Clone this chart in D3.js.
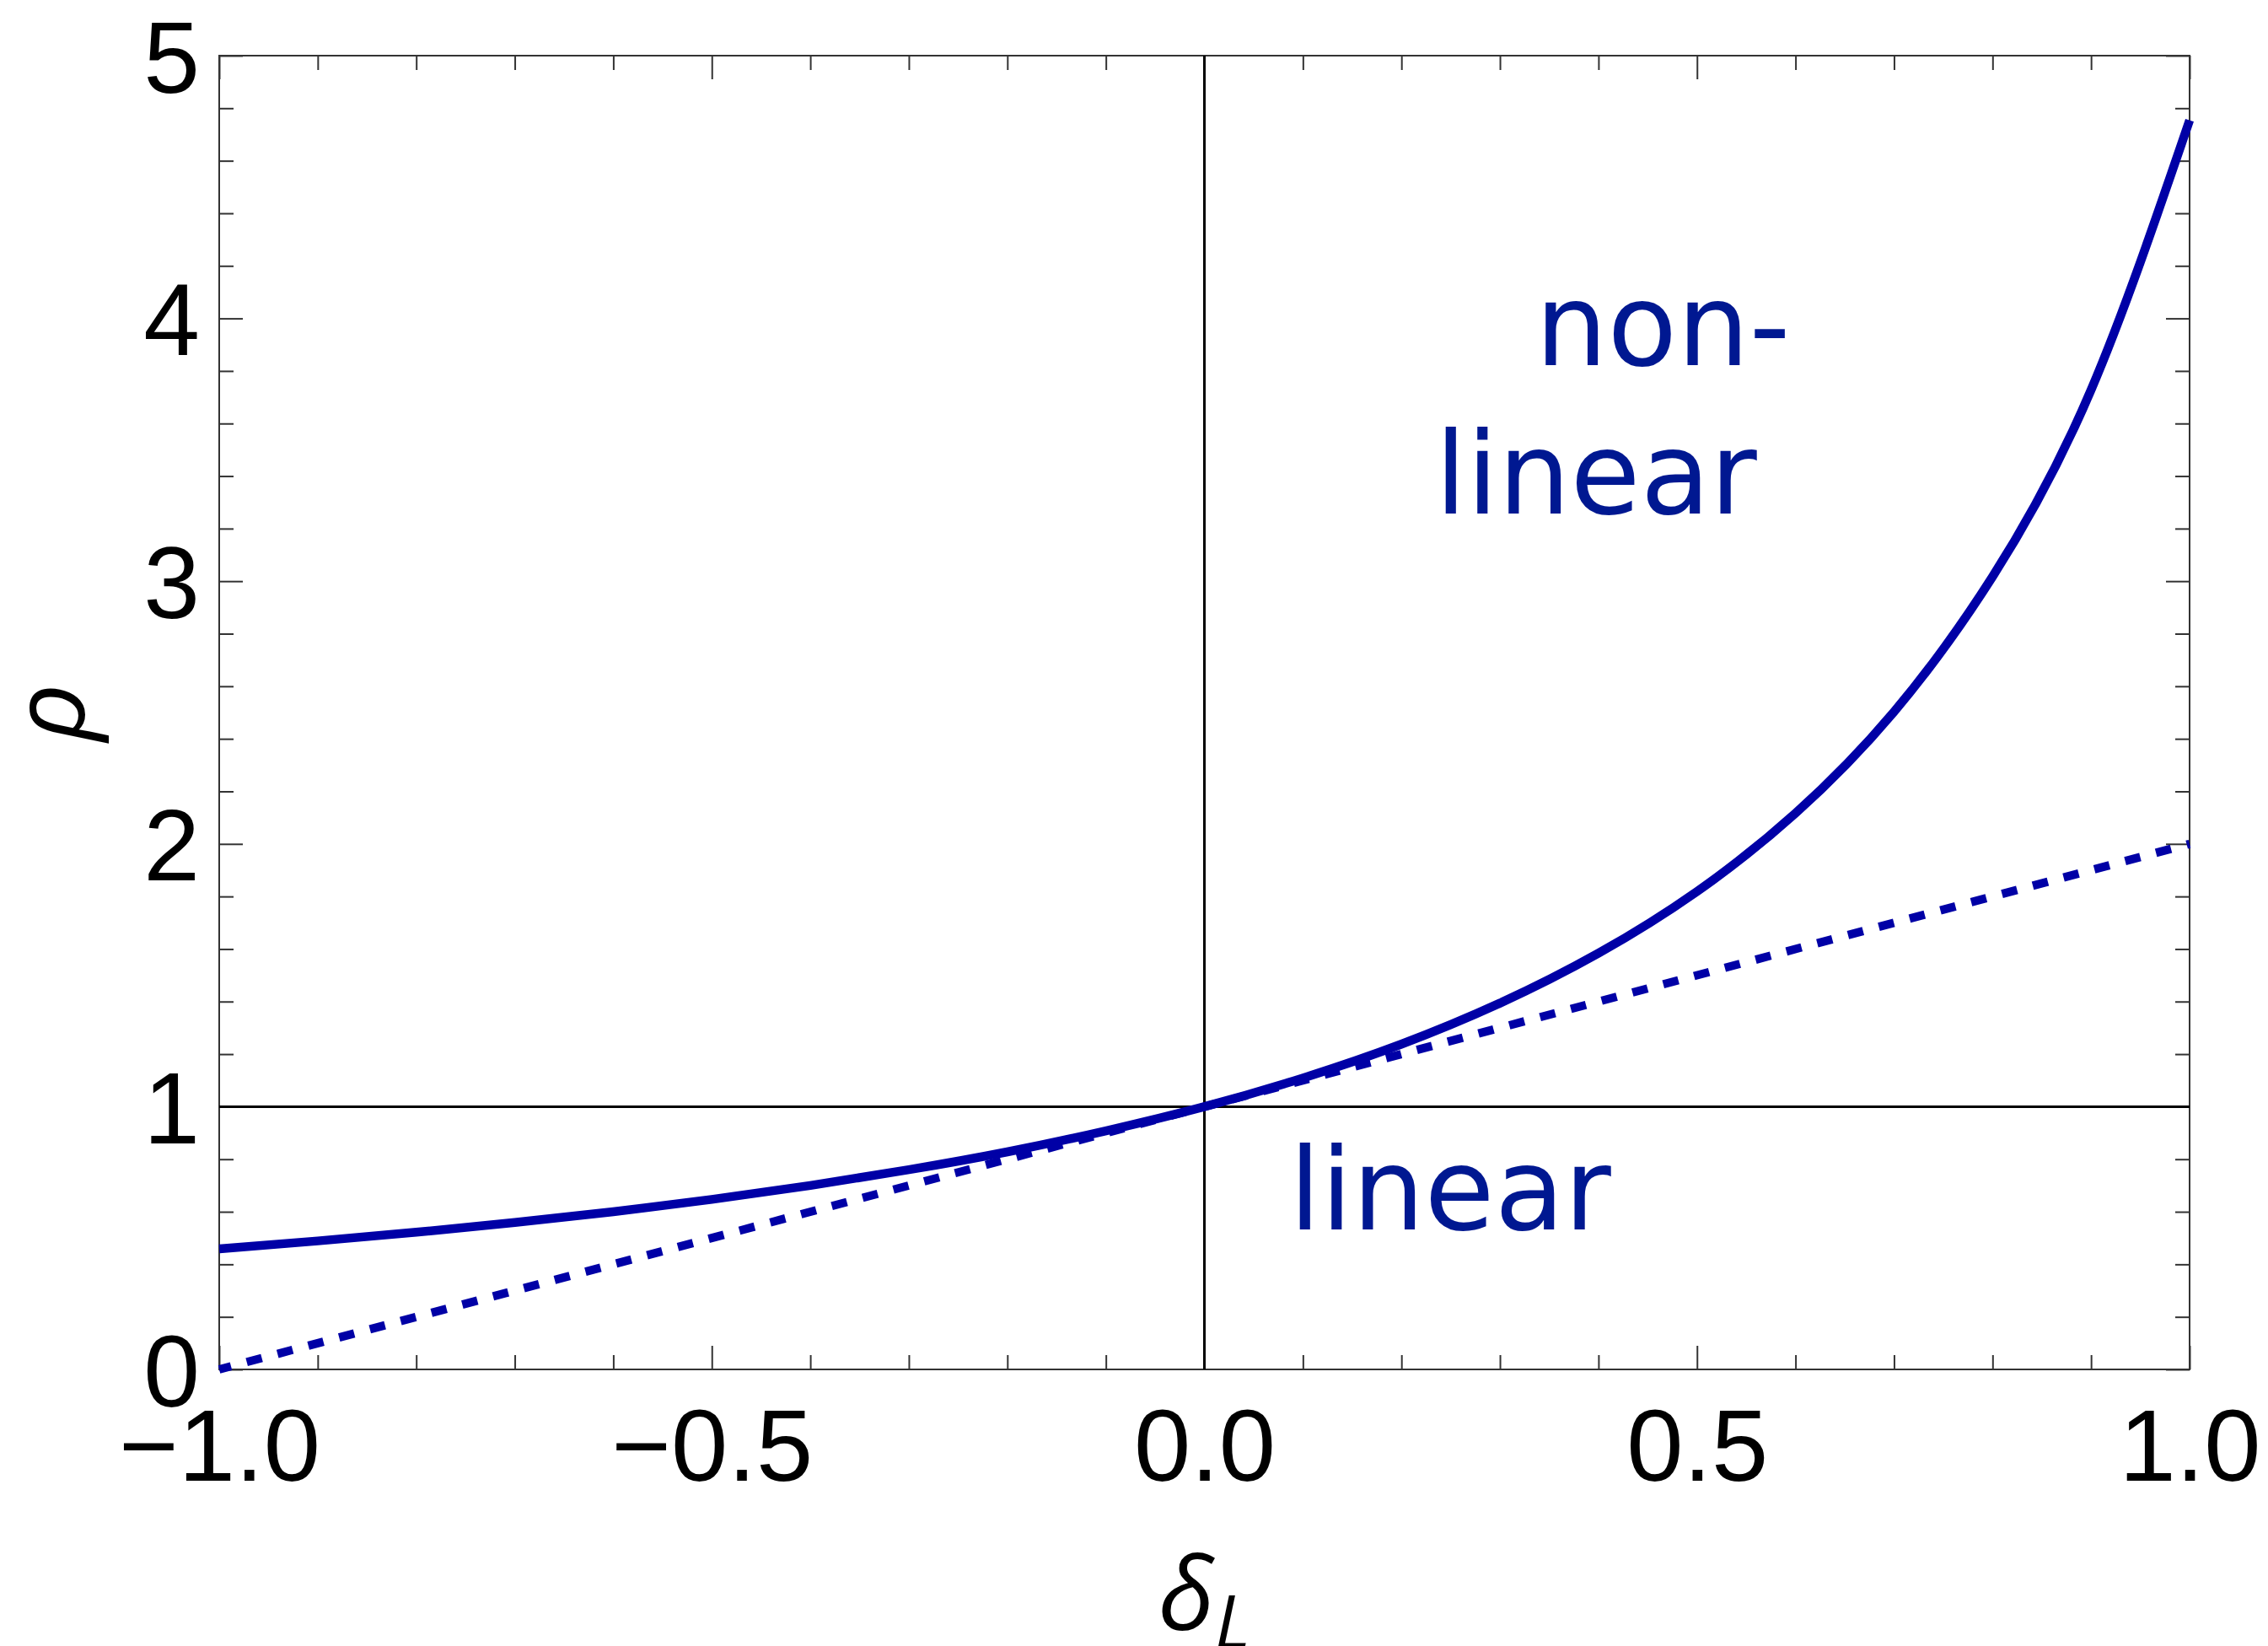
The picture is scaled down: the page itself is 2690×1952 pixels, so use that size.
<!DOCTYPE html>
<html>
<head>
<meta charset="utf-8">
<script src="https://cdn.jsdelivr.net/npm/d3@7"></script>
<style>
	body { margin: 0; background: #fff; }
	svg { display: block; }
</style>
</head>
<body>
<svg id="chart"></svg>
<script>
	'use strict';

	// values
	var deltaL = [-1.0, -0.9, -0.8, -0.7, -0.6, -0.5, -0.4, -0.3, -0.2, -0.1, 0.0,
		0.1, 0.2, 0.3, 0.4, 0.5, 0.6, 0.7, 0.8, 0.9, 1.0];
	var rhoNonLinear = [0.459, 0.489, 0.522, 0.559, 0.600, 0.647, 0.700, 0.760, 0.828, 0.908, 1.000,
		1.109, 1.238, 1.394, 1.584, 1.819, 2.117, 2.503, 3.017, 3.728, 4.754];
	var linearDelta = [-1.0, 1.0];
	var rhoLinear = [0.0, 2.0];

	var xMajor = [-1.0, -0.5, 0.0, 0.5, 1.0];
	var xMinor = [-0.9, -0.8, -0.7, -0.6, -0.4, -0.3, -0.2, -0.1, 0.1, 0.2, 0.3, 0.4, 0.6, 0.7, 0.8, 0.9];
	var yMajor = [0, 1, 2, 3, 4, 5];
	var yMinor = [0.2, 0.4, 0.6, 0.8, 1.2, 1.4, 1.6, 1.8, 2.2, 2.4, 2.6, 2.8, 3.2, 3.4, 3.6, 3.8, 4.2, 4.4, 4.6, 4.8];

	var W = 2690, H = 1952;
	var plotLeft = 260, plotRight = 2597, plotTop = 66, plotBottom = 1624;
	var lineColor = "#0000a6";
	var textColor = "#001891";
	var numFont = "'Liberation Sans', Arial, sans-serif";

	var svg = d3.select("#chart").attr("width", W).attr("height", H);

	var x = d3.scaleLinear().domain([-1, 1]).range([plotLeft, plotRight]);
	var y = d3.scaleLinear().domain([0, 5]).range([plotBottom, plotTop]);
	var fmtX = d3.format(".1f");

	// ticks on all four sides, pointing inwards
	function ticks(axis, pos, values, size, withLabels, fmt) {
		var g = svg.append("g")
			.attr("transform", pos)
			.call(axis.tickValues(values).tickSize(-size).tickSizeOuter(0)
				.tickFormat(withLabels ? fmt : ""));
		g.select(".domain").remove();
		g.selectAll(".tick line").attr("stroke", "#333").attr("stroke-width", 2);
		return g;
	}

	var gx = ticks(d3.axisBottom(x), "translate(0," + plotBottom + ")", xMajor, 28, true, fmtX);
	ticks(d3.axisBottom(x), "translate(0," + plotBottom + ")", xMinor, 17, false);
	ticks(d3.axisTop(x), "translate(0," + plotTop + ")", xMajor, 28, false);
	ticks(d3.axisTop(x), "translate(0," + plotTop + ")", xMinor, 17, false);
	var gy = ticks(d3.axisLeft(y), "translate(" + plotLeft + ",0)", yMajor, 28, true, d3.format("d"));
	ticks(d3.axisLeft(y), "translate(" + plotLeft + ",0)", yMinor, 17, false);
	ticks(d3.axisRight(y), "translate(" + plotRight + ",0)", yMajor, 28, false);
	ticks(d3.axisRight(y), "translate(" + plotRight + ",0)", yMinor, 17, false);

	gx.selectAll("text")
		.attr("y", 132).attr("dy", null)
		.attr("fill", "#000")
		.style("font-family", numFont).style("font-size", "121px");
	gy.selectAll("text")
		.attr("x", -23).attr("y", 43).attr("dy", null)
		.attr("fill", "#000")
		.style("font-family", numFont).style("font-size", "120px");

	// frame
	svg.append("rect")
		.attr("x", plotLeft).attr("y", plotTop)
		.attr("width", plotRight - plotLeft).attr("height", plotBottom - plotTop)
		.attr("fill", "none").attr("stroke", "#333").attr("stroke-width", 2);

	// reference lines at delta = 0 and rho = 1
	svg.append("line")
		.attr("x1", x(0)).attr("x2", x(0)).attr("y1", y(0)).attr("y2", y(5))
		.attr("stroke", "#000").attr("stroke-width", 3);
	svg.append("line")
		.attr("x1", x(-1)).attr("x2", x(1)).attr("y1", y(1)).attr("y2", y(1))
		.attr("stroke", "#000").attr("stroke-width", 3);

	var line = d3.line()
		.x(function(d) { return x(d[0]); })
		.y(function(d) { return y(d[1]); });

	svg.append("path")
		.datum(d3.zip(linearDelta, rhoLinear))
		.attr("d", line)
		.attr("fill", "none")
		.attr("stroke", lineColor)
		.attr("stroke-width", 10)
		.attr("stroke-dasharray", "18.5,19.3")
		.attr("stroke-dashoffset", 4);

	svg.append("path")
		.datum(d3.zip(deltaL, rhoNonLinear))
		.attr("d", line.curve(d3.curveNatural))
		.attr("fill", "none")
		.attr("stroke", lineColor)
		.attr("stroke-width", 10.5);

	// annotations
	var labelFont = "'DejaVu Sans', Verdana, sans-serif";
	function note(txt, px, py) {
		svg.append("text")
			.attr("x", px).attr("y", py)
			.attr("fill", textColor)
			.style("font-family", labelFont).style("font-size", "135px")
			.text(txt);
	}
	note("non-", 1821, 433);
	note("linear", 1702, 609);
	note("linear", 1529, 1458);

	// axis titles
	var xt = svg.append("text")
		.attr("x", x(0)).attr("y", 1933)
		.attr("text-anchor", "middle")
		.style("font-family", "'Open Sans', 'DejaVu Sans', sans-serif")
		.style("font-style", "italic")
		.style("font-size", "120px");
	xt.append("tspan").text("δ");
	xt.append("tspan").attr("dy", 22).style("font-size", "88px").text("L");

	svg.append("text")
		.attr("transform", "translate(100," + ((plotTop + plotBottom) / 2) + ") rotate(-90)")
		.attr("text-anchor", "middle")
		.style("font-family", "'Open Sans', 'DejaVu Sans', sans-serif")
		.style("font-style", "italic")
		.style("font-size", "120px")
		.text("ρ");
</script>
</body>
</html>
